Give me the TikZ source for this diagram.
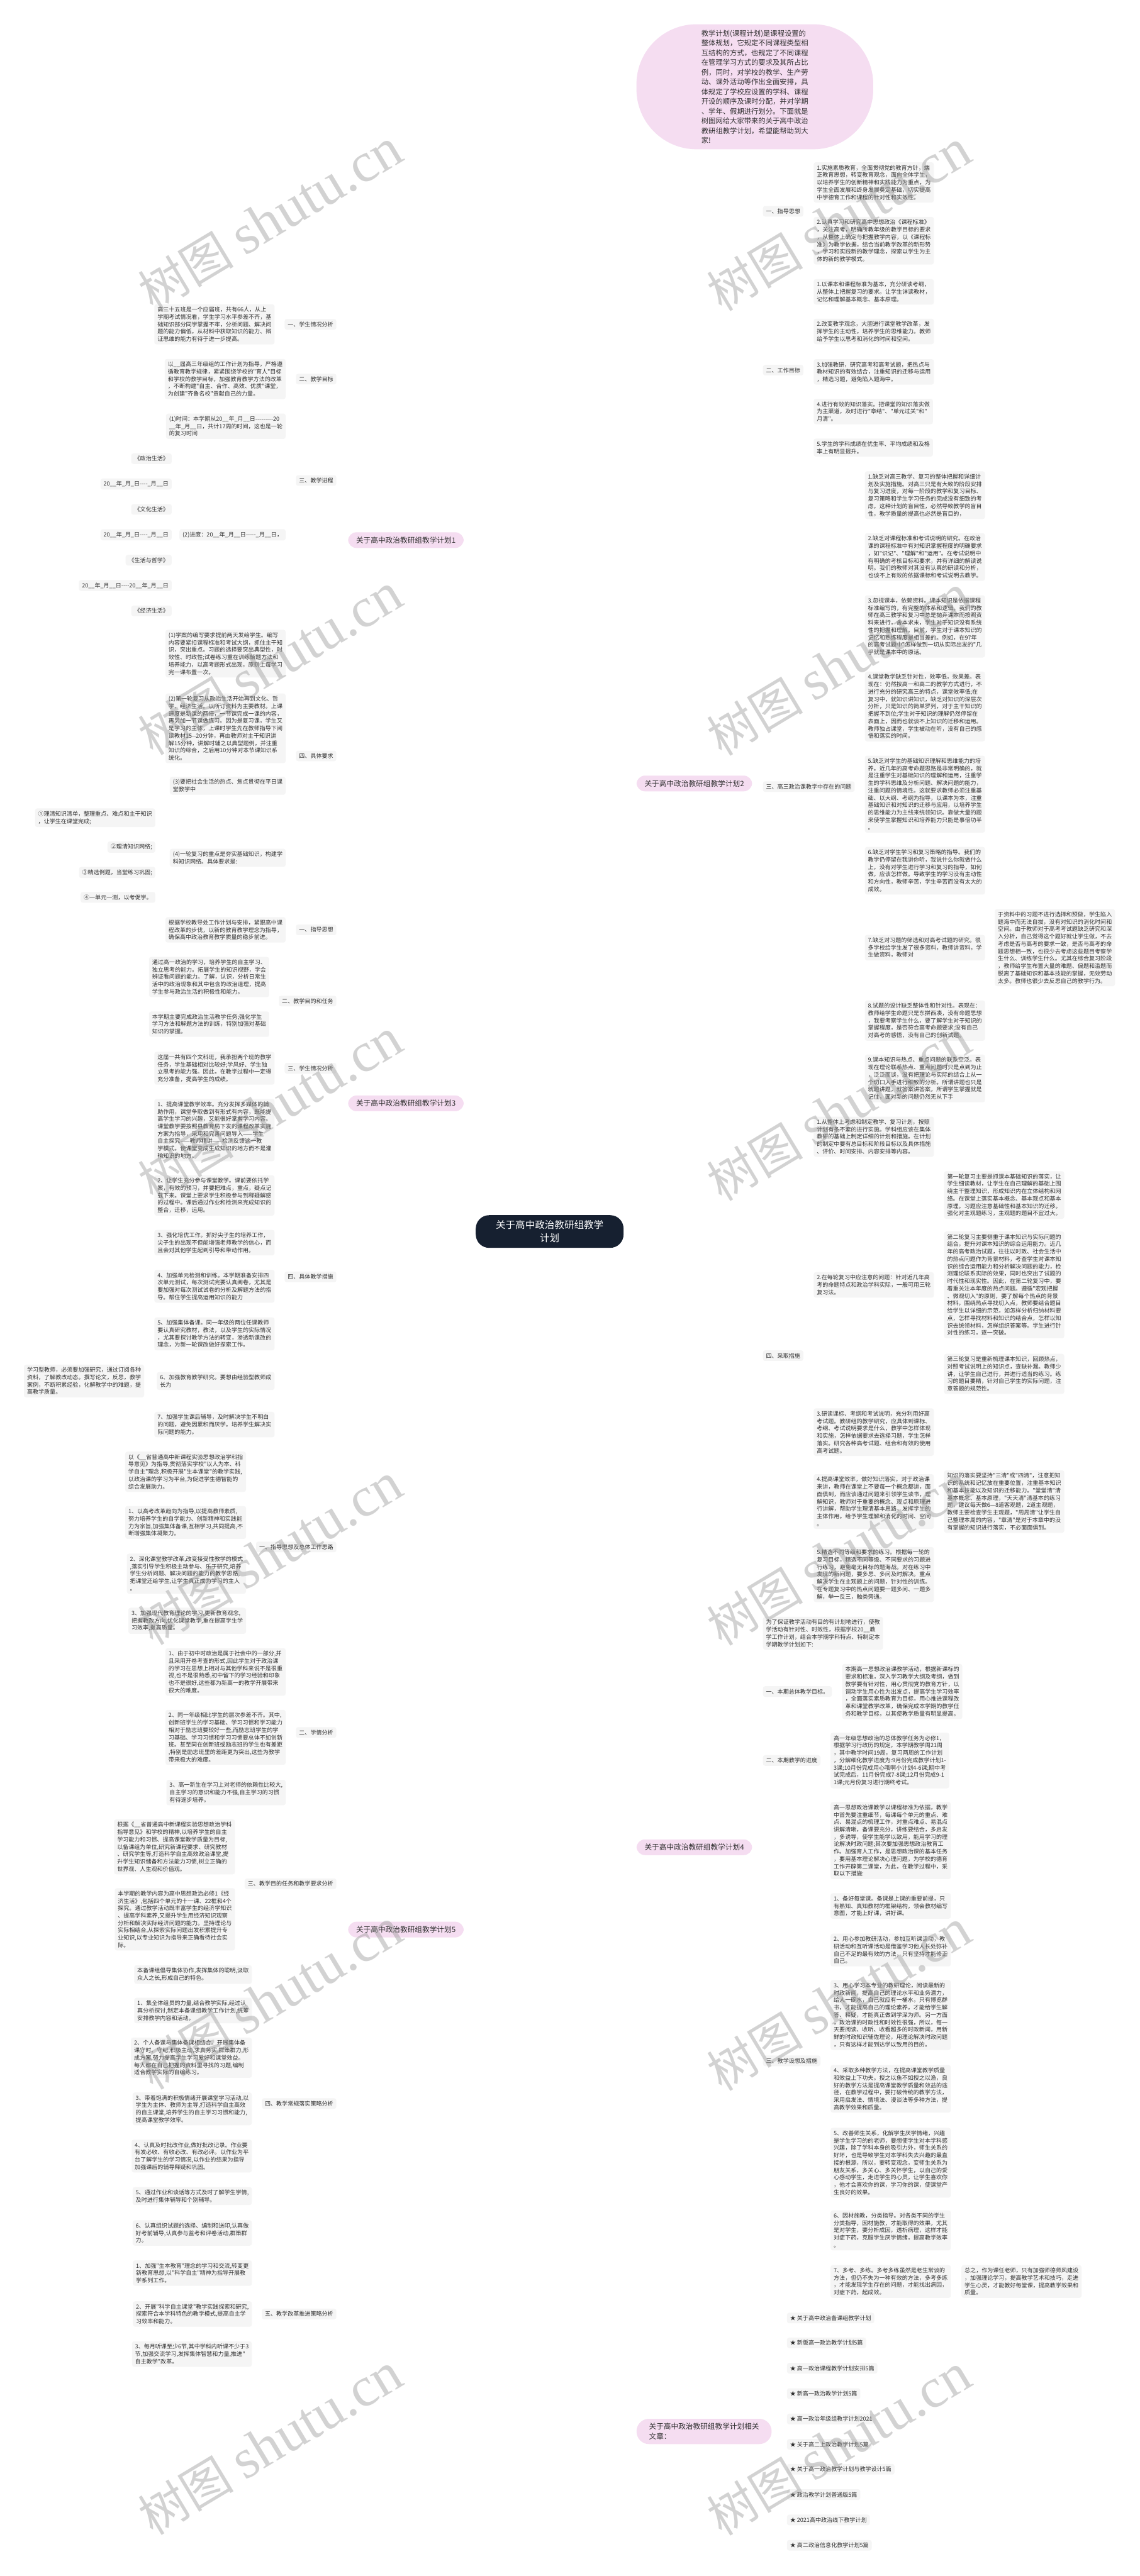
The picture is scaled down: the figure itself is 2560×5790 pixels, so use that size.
\documentclass[tikz,border=0pt]{standalone}
\usepackage{fontspec}
\newfontfamily\cjk{Noto Sans CJK SC}
\newfontfamily\wmfont{Liberation Serif}
\definecolor{linec}{RGB}{28,38,54}
\definecolor{boxc}{RGB}{245,245,245}
\definecolor{pinkc}{RGB}{245,221,241}
\definecolor{darkc}{RGB}{22,32,48}
\definecolor{txt}{RGB}{48,48,48}
\definecolor{wmc}{RGB}{150,150,150}
\newcommand\hA{-\kern0pt\relax}
\pgfdeclarelayer{bg}
\pgfsetlayers{bg,main}
\newcommand\eR[3][13]{\draw[conn] (#2.east) .. controls ([xshift=#1pt]#2.east) and ([xshift=-#1pt]#3.west) .. (#3.west);}
\newcommand\eL[3][13]{\draw[conn] (#2.west) .. controls ([xshift=-#1pt]#2.west) and ([xshift=#1pt]#3.east) .. (#3.east);}
\begin{document}
\begin{tikzpicture}[x=1pt,y=-1pt,
 box/.style={fill=boxc,rounded corners=5pt,inner xsep=7pt,inner ysep=6pt,align=left,text=txt,font=\cjk\fontsize{12.8}{16.6}\selectfont},
 plan/.style={fill=pinkc,rounded corners=19pt,inner xsep=18pt,inner ysep=10pt,text=txt,font=\cjk\fontsize{16.5}{21.6}\selectfont},
 conn/.style={draw=linec,line width=1.8pt},
 mainc/.style={draw=linec,line width=2.2pt},
 wm/.style={text=wmc,opacity=0.42,rotate=31,anchor=base west,inner sep=0pt}]
\fill[white] (0,0) rectangle (2560,5790);
\useasboundingbox (0,0) rectangle (2560,5790);

% ---------------- centre, intro and branch nodes
\node[fill=darkc,rounded corners=30pt,inner xsep=45pt,inner ysep=12pt,align=center,text=white,font=\cjk\fontsize{22}{29}\selectfont] (c) at (1235,2768) {关于高中政治教研组教学\\计划};
\node[fill=pinkc,rounded corners=135pt,minimum width=532pt,minimum height=281pt,align=left,text=txt,font=\cjk\fontsize{16}{21.9}\selectfont] (intro) at (1696,195) {教学计划(课程计划)是课程设置的\\整体规划，它规定不同课程类型相\\互结构的方式，也规定了不同课程\\在管理学习方式的要求及其所占比\\例，同时，对学校的教学、生产劳\\动、课外活动等作出全面安排，具\\体规定了学校应设置的学科、课程\\开设的顺序及课时分配，并对学期\\、学年、假期进行划分。下面就是\\树图网给大家带来的关于高中政治\\教研组教学计划，希望能帮助到大\\家!};
\node[plan,anchor=east] (p1) at (1042,1214) {关于高中政治教研组教学计划1};
\node[plan,anchor=east] (p3) at (1042,2480) {关于高中政治教研组教学计划3};
\node[plan,anchor=east] (p5) at (1042,4337) {关于高中政治教研组教学计划5};
\node[plan,anchor=west] (p2) at (1430,1761) {关于高中政治教研组教学计划2};
\node[plan,anchor=west] (p4) at (1430,4152) {关于高中政治教研组教学计划4};
\node[plan,anchor=west,align=left,inner xsep=28pt,rounded corners=28pt] (rel) at (1430,5465) {关于高中政治教研组教学计划相关\\文章：};

% ---------------- plan 2
\node[box,anchor=west] (a1) at (1714,475) {一、指导思想};
\node[box,anchor=west] (a1x1) at (1828,410) {1.实施素质教育，全面贯彻党的教育方针，端\\正教育思想，转变教育观念，面向全体学生，\\以培养学生的创新精神和实践能力为重点，为\\学生全面发展和终身发展奠定基础，切实提高\\中学德育工作和课程的针对性和实效性。};
\node[box,anchor=west] (a1x2) at (1828,541) {2.认真学习和研究高中思想政治《课程标准》\\，关注高考，明确所教年级的教学目标的要求\\，从整体上确定与把握教学内容，以《课程标\\准》为教学依据，结合当前教学改革的新形势\\，学习和实践新的教学理念，探索以学生为主\\体的新的教学模式。};
\node[box,anchor=west] (a2) at (1714,832) {二、工作目标};
\node[box,anchor=west] (a2x1) at (1828,656) {1.以课本和课程标准为基本，充分研读考纲，\\从整体上把握复习的要求。让学生详读教材，\\记忆和理解基本概念、基本原理。};
\node[box,anchor=west] (a2x2) at (1828,745) {2.改变教学观念，大胆进行课堂教学改革，发\\挥学生的主动性，培养学生的思维能力。教师\\给予学生以思考和消化的时间和空间。};
\node[box,anchor=west] (a2x3) at (1828,836) {3.加强教研，研究高考和高考试题，把热点与\\教材知识的有效结合，注重知识的迁移与运用\\，精选习题，避免陷入题海中。};
\node[box,anchor=west] (a2x4) at (1828,925) {4.进行有效的知识落实。把课堂的知识落实做\\为主渠道，及时进行"章结"、"单元过关"和"\\月清"。};
\node[box,anchor=west] (a2x5) at (1828,1006) {5.学生的学科成绩在优生率、平均成绩和及格\\率上有明显提升。};
\node[box,anchor=west] (a3) at (1714,1768) {三、高三政治课教学中存在的问题};
\node[box,anchor=west] (a3x1) at (1943,1113) {1.缺乏对高三教学、复习的整体把握和详细计\\划及实施措施。对高三只是有大致的阶段安排\\与复习进度，对每一阶段的教学和复习目标、\\复习策略和学生学习任务的完成没有细致的考\\虑，这种计划的盲目性，必然导致教学的盲目\\性，教学质量的提高也必然是盲目的，};
\node[box,anchor=west] (a3x2) at (1943,1252) {2.缺乏对课程标准和考试说明的研究。在政治\\课的课程标准中有对知识掌握程度的明确要求\\，如"识记"、"理解"和"运用"。在考试说明中\\有明确的考核目标和要求，并有详细的解读说\\明。我们的教师对其没有认真的研读和分析，\\也谈不上有效的依据课标和考试说明去教学。};
\node[box,anchor=west] (a3x3) at (1943,1408) {3.忽视课本，依赖资料。课本知识是依据课程\\标准编写的，有完整的体系和逻辑。我们的教\\师在高三教学和复习中总是抛弃课本而按照资\\料来进行，舍本求末，学生对于知识没有系统\\性的把握和理解。目前，学生对于课本知识的\\记忆和熟练程度是相当差的。例如，在97年\\的高考试题中"怎样做到一切从实际出发的"几\\乎就是课本中的原话。};
\node[box,anchor=west] (a3x4) at (1943,1588) {4.课堂教学缺乏针对性，效率低，效果差。表\\现在：仍然按高一和高二的教学方式进行，不\\进行充分的研究高三的特点，课堂效率低;在\\复习中，就知识讲知识，缺乏对知识的深层次\\分析，只是知识的简单罗列，对于主干知识的\\把握不到位;学生对于知识的理解仍然停留在\\表面上，因而也就谈不上知识的迁移和运用。\\教师独占课堂，学生被动在听，没有自己的感\\悟和落实的时间。};
\node[box,anchor=west] (a3x5) at (1943,1785) {5.缺乏对学生的基础知识理解和思维能力的培\\养。近几年的高考命题思路是非常明确的，就\\是注重学生对基础知识的理解和运用，注重学\\生的学科思维及分析问题、解决问题的能力，\\注重问题的情境性。这就要求教师必须注重基\\础、以大纲、考纲为指导，以课本为本，注重\\基础知识和对知识的迁移与应用，以培养学生\\的思维能力为主线来统领知识。靠做大量的题\\来使学生掌握知识和培养能力只能是事倍功半\\。};
\node[box,anchor=west] (a3x6) at (1943,1957) {6.缺乏对学生学习和复习策略的指导。我们的\\教学仍停留在我讲你听，我说什么你就做什么\\上，没有对学生进行学习和复习的指导，如何\\做，应该怎样做。导致学生的学习没有主动性\\和方向性，教师辛苦，学生辛苦而没有太大的\\成效。};
\node[box,anchor=west] (a3x7) at (1943,2130) {7.缺乏对习题的筛选和对高考试题的研究。很\\多学校给学生发了很多资料，教师讲资料，学\\生做资料，教师对};
\node[box,anchor=west] (a3x7c) at (2235,2130) {于资料中的习题不进行选择和预做，学生陷入\\题海中而无法自拔，没有对知识的消化时间和\\空间。由于教师对于高考考试题缺乏研究和深\\入分析，自己觉得这个题好就让学生做，不去\\考虑是否与高考的要求一致，是否与高考的命\\题思想相一致，也很少去考虑这些题目考察学\\生什么、训练学生什么。尤其在综合复习阶段\\，教师给学生布置大量的难题、偏题和滥题而\\脱离了基础知识和基本技能的掌握，无效劳动\\太多。教师也很少去反思自己的教学行为。};
\node[box,anchor=west] (a3x8) at (1943,2294) {8.试题的设计缺乏整体性和针对性。表现在：\\教师给学生命题只是东拼西凑，没有命题思想\\，我要考察学生什么，要了解学生对于知识的\\掌握程度，是否符合高考命题要求;没有自己\\对高考的感悟，没有自己的创新试题。};
\node[box,anchor=west] (a3x9) at (1943,2424) {9.课本知识与热点、重点问题的联系空泛。表\\现在理论联系热点、重点问题时只是点到为止\\，泛泛而谈，没有把理论与实际的结合上从一\\个切口入手进行细致的分析。所谓讲题也只是\\就题讲题，就答案讲答案，所谓学生掌握就是\\记住，面对新的问题仍然无从下手};
\node[box,anchor=west] (a4) at (1714,3047) {四、采取措施};
\node[box,anchor=west] (a4x1) at (1828,2555) {1.从整体上考虑和制定教学、复习计划，按照\\计划有条不紊的进行实施。学科组应该在集体\\教研的基础上制定详细的计划和措施。在计划\\的制定中要有总目标和阶段目标以及具体措施\\、评价、时间安排、内容安排等内容。};
\node[box,anchor=west] (a4x2) at (1828,2888) {2.在每轮复习中应注意的问题：针对近几年高\\考的命题特点和政治学科实际，一般可用三轮\\复习法。};
\node[box,anchor=west] (a4x2a) at (2121,2686) {第一轮复习主要是抓课本基础知识的落实，让\\学生细读教材，让学生在自己理解的基础上围\\绕主干整理知识，形成知识内在立体结构和网\\络。在课堂上落实基本概念、基本观点和基本\\原理。习题应注意基础性和基本知识的迁移。\\强化对主观题练习，主观题的题目不宜过大。};
\node[box,anchor=west] (a4x2b) at (2121,2888) {第二轮复习主要侧重于课本知识与实际问题的\\结合，提升对课本知识的综合运用能力。近几\\年的高考政治试题，往往以时政、社会生活中\\的热点问题作为背景材料，考查学生对课本知\\识的综合运用能力和分析解决问题的能力，检\\测理论联系实际的效果，同时也突出了试题的\\时代性和现实性。因此，在第二轮复习中，要\\着重关注本年度的热点问题。遵循"宏观把握\\、微观切入"的原则，要了解每个热点的背景\\材料，围绕热点寻找切入点，教师要结合题目\\给学生以详细的示范，如怎样分析归纳材料要\\点，怎样寻找材料和知识的结合点，怎样以知\\识去统领材料，怎样组织答案等。学生进行针\\对性的练习，逐一突破。};
\node[box,anchor=west] (a4x2c) at (2121,3088) {第三轮复习是重新梳理课本知识，回顾热点，\\对照考试说明上的知识点，查缺补漏。教师少\\讲，让学生自己进行，并进行适当的练习。练\\习的题目要精，针对自己学生的实际问题，注\\意答题的规范性。};
\node[box,anchor=west] (a4x3) at (1828,3219) {3.研读课标、考纲和考试说明，充分利用好高\\考试题。教研组的教学研究，应具体到课标、\\考纲、考试说明要求是什么，教学中怎样体现\\和实施，怎样依据要求去选择习题，学生怎样\\落实。研究各种高考试题、组合和有效的使用\\高考试题。};
\node[box,anchor=west] (a4x4) at (1828,3375) {4.提高课堂效率，做好知识落实。对于政治课\\来讲，教师在课堂上不要每一个概念都讲，面\\面俱到，而应该通过问题来引领学生读书，理\\解知识，教师对于重要的概念、观点和原理进\\行讲解，帮助学生理清基本思路，发挥学生的\\主体作用。给予学生理解和消化的时间、空间\\。};
\node[box,anchor=west] (a4x4c) at (2121,3375) {知识的落实要坚持"三清"或"四清"，注意把知\\识的系统和记忆放在重要位置，注重基本知识\\和基本技能以及知识的迁移能力。"堂堂清"清\\基本概念、基本原理，"天天清"清基本的练习\\题，建议每天做6—8道客观题，2道主观题，\\教师主要检查学生主观题，"周周清"让学生自\\己整理本周的内容，"章清"是对于本章中的没\\有掌握的知识进行落实，不必面面俱到。};
\node[box,anchor=west] (a4x5) at (1828,3539) {5.精选不同等级和要求的练习。根据每一轮的\\复习目标，精选不同等级、不同要求的习题进\\行练习，避免毫无目标的题海战。对在练习中\\发现的新问题，要多思、多问及时解决。重点\\解决学生在主观题上的问题，针对性的训练。\\在专题复习中的热点问题要一题多问、一题多\\解，举一反三，触类旁通。};

% ---------------- plan 4
\node[box,anchor=west] (b0) at (1714,3671) {为了保证教学活动有目的有计划地进行，使教\\学活动有针对性、时效性，根据学校20\_\_教\\学工作计划，结合本学期学科特点、特制定本\\学期教学计划如下:};
\node[box,anchor=west] (b1) at (1714,3802) {一、本期总体教学目标。};
\node[box,anchor=west] (b1c) at (1892,3802) {本期高一思想政治课教学活动，根据新课标的\\要求和标准，深入学习教学大纲及考纲，做到\\教学要有针对性，用心贯彻党的教育方针，以\\调动学生用心性为出发点，提高学生学习效率\\，全面落实素质教育为目标，用心推进课程改\\革和课堂教学改革，确保完成本学期的教学任\\务和教学目标，以其使教学质量有明显提高。};
\node[box,anchor=west] (b2) at (1714,3957) {二、本期教学的进度};
\node[box,anchor=west] (b2c) at (1866,3957) {高一年级思想政治的总体教学任务为必修1，\\根据学习行政历的规定，本学期教学周21周\\，其中教学时间19周，复习两周的工作计划\\，分解细化教学进度为:9月份完成教学计划1-\\3课;10月份完成用心哦啊小计划4-6课;期中考\\试完成后，11月份完成7-8课;12月份完成9-1\\1课;元月份复习进行期终考试。};
\node[box,anchor=west] (b3) at (1714,4632) {三、教学设想及措施};
\node[box,anchor=west] (b3c0) at (1866,4137) {高一思想政治课教学以课程标准为依据，教学\\中首先要注重细节，每课每个单元的重点、难\\点、易混点的梳理工作，对重点难点、易混点\\讲解清晰，备课要充分，讲练要结合，多启发\\，多诱导，使学生能学以致用，能用学习的理\\论解决时政问题;其次要加强思想政治教育工\\作。加强育人工作，是思想政治课的基本任务\\，要用基本理论解决心理问题，为学校的德育\\工作开辟第二课堂，为此，在教学过程中，采\\取以下措施:};
\node[box,anchor=west] (b3c1) at (1866,4284) {1、备好每堂课。备课是上课的重要前提，只\\有熟知、真知教材的框架结构，领会教材编写\\意图，才能上好课，讲好课。};
\node[box,anchor=west] (b3c2) at (1866,4383) {2、用心参加教研活动，参加互听课活动，教\\研活动和互听课活动是借鉴学习他人长处弥补\\自己不足的最有效的方法，只有坚持才能修正\\自己。};
\node[box,anchor=west] (b3c3) at (1866,4529) {3、用心学习本专业的教研理论，阅读最新的\\时政新闻，提高自己的理论水平和业务潜力，\\给人一碗水，自己就应有一桶水，只有博览群\\书，才能提高自己的理论素养，才能给学生解\\答、释疑，才能真正做到学深为师。另一方面\\，政治课的时政性和时效性很强，所以，每一\\天要阅读、收听、收看超多的时政新闻，用新\\鲜的时政知识辅佐理论，用理论解决时政问题\\，只有这样才能到达学以致用的目的。};
\node[box,anchor=west] (b3c4) at (1866,4695) {4、采取多种教学方法，在提高课堂教学质量\\和效益上下功夫。授之以鱼不如授之以渔，良\\好的教学方法是提高课堂教学质量和效益的途\\径，在教学过程中，要打破传统的教学方法，\\采用启发法、情境法、漫谈法等多种方法，提\\高教学效果和质量。};
\node[box,anchor=west] (b3c5) at (1866,4861) {5、改善师生关系，化解学生厌学情绪，兴趣\\是学生学习的的老师，要想使学生对本学科感\\兴趣，除了学科本身的吸引力外，师生关系的\\好坏，也是导致学生对本学科失去兴趣的最直\\接的根源，所以，要转变观念，变师生关系为\\朋友关系，多关心、多关怀学生，以自己的爱\\心感动学生，走进学生的心灵，让学生喜欢你\\，他才会喜欢你的课，学习你的课，使课堂产\\生良好的效果。};
\node[box,anchor=west] (b3c6) at (1866,5013) {6、因材施教，分类指导。对各类不同的学生\\分类指导，因材施教，才能取得的效果，尤其\\是对学生，要分析成因，透析病理，这样才能\\对症下药，克服学生厌学情绪，提高教学效率\\。};
\node[box,anchor=west] (b3c7) at (1866,5128) {7、多考、多练。多考多练虽然是老生常谈的\\方法，但仍不失为一种有效的方法，多考多练\\，才能发现学生存在的问题，才能找出病因，\\对症下药，起成效。};
\node[box,anchor=west] (b3c7x) at (2160,5128) {总之，作为课任老师，只有加强师德师风建设\\，加强理论学习，提高教学艺术和技巧，走进\\学生心灵，才能教好每堂课，提高教学效果和\\质量。};

% ---------------- related articles
\node[box,anchor=west] (r1) at (1768,5210) {★ 关于高中政治备课组教学计划};
\node[box,anchor=west] (r2) at (1768,5266) {★ 新版高一政治教学计划5篇};
\node[box,anchor=west] (r3) at (1768,5323) {★ 高一政治课程教学计划安排5篇};
\node[box,anchor=west] (r4) at (1768,5380) {★ 新高一政治教学计划5篇};
\node[box,anchor=west] (r5) at (1768,5437) {★ 高一政治年级组教学计划2021};
\node[box,anchor=west] (r6) at (1768,5494) {★ 关于高二上政治教学计划5篇};
\node[box,anchor=west] (r7) at (1768,5550) {★ 关于高一政治教学计划与教学设计5篇};
\node[box,anchor=west] (r8) at (1768,5607) {★ 政治教学计划普通版5篇};
\node[box,anchor=west] (r9) at (1768,5664) {★ 2021高中政治线下教学计划};
\node[box,anchor=west] (r10) at (1768,5721) {★ 高二政治信息化教学计划5篇};

% ---------------- plan 1
\node[box,anchor=east] (d1) at (756,729) {一、学生情况分析};
\node[box,anchor=east] (d1c) at (617,729) {高三十五班是一个应届班，共有66人，从上\\学期考试情况看，学生学习水平参差不齐，基\\础知识部分同学掌握不牢，分析问题、解决问\\题的能力偏低，从材料中获取知识的能力、辩\\证思维的能力有待于进一步提高。};
\node[box,anchor=east] (d2) at (756,852) {二、教学目标};
\node[box,anchor=east] (d2c) at (642,852) {以\_\_届高三年级组的工作计划为指导，严格遵\\循教育教学规律，紧紧围绕学校的"育人"目标\\和学校的教学目标，加强教育教学方法的改革\\，不断构建"自主、合作、高效、优质"课堂，\\为创建"齐鲁名校"贡献自己的力量。};
\node[box,anchor=east] (d3) at (756,1080) {三、教学进程};
\node[box,anchor=east] (d3c1) at (642,958) {(1)时间：本学期从20\_\_年\_月\_\_日\hA\hA\hA\hA\hA\hA\hA\hA\hA20\\\_\_年\_月\_\_日，共计17周的时间，这也是一轮\\的复习时间};
\node[box,anchor=east] (d3c2) at (642,1202) {(2)进度：20\_\_年\_月\_\_日\hA\hA\hA\hA\hA\_月\_\_日，};
\node[box,anchor=east] (d3g1) at (386,1031) {《政治生活》};
\node[box,anchor=east] (d3g2) at (386,1088) {20\_\_年\_月\_日\hA\hA\hA\hA\_月\_\_日};
\node[box,anchor=east] (d3g3) at (386,1145) {《文化生活》};
\node[box,anchor=east] (d3g4) at (386,1202) {20\_\_年\_月\_日\hA\hA\hA\hA\_月\_\_日};
\node[box,anchor=east] (d3g5) at (386,1259) {《生活与哲学》};
\node[box,anchor=east] (d3g6) at (386,1316) {20\_\_年\_月\_\_日\hA\hA\hA\hA20\_\_年\_月\_\_日};
\node[box,anchor=east] (d3g7) at (386,1373) {《经济生活》};
\node[box,anchor=east] (d4) at (756,1699) {四、具体要求};
\node[box,anchor=east] (d4c1) at (642,1469) {(1)学案的编写要求提前两天发给学生。编写\\内容要紧扣课程标准和考试大纲，抓住主干知\\识，突出重点。习题的选择要突出典型性，时\\效性、时政性;试卷练习重在训练解题方法和\\培养能力，以高考题形式出现，原则上每学习\\完一课布置一次。};
\node[box,anchor=east] (d4c2) at (642,1637) {(2)第一轮复习从政治生活开始再到文化、哲\\学、经济生活。以所订资料为主要教材。上课\\速度是新课的两倍，一节课完成一课的内容，\\再另加一节课做练习。因为是复习课，学生又\\是学习的主体，上课时学生先在教师指导下阅\\读教材15\hA\hA20分钟，再由教师对主干知识讲\\解15分钟，讲解时辅之以典型题例，并注重\\知识的综合，之后用10分钟对本节课知识系\\统化。};
\node[box,anchor=east] (d4c3) at (642,1766) {(3)要把社会生活的热点、焦点贯彻在平日课\\堂教学中};
\node[box,anchor=east] (d4c4) at (642,1928) {(4)一轮复习的重点是夯实基础知识，构建学\\科知识网络。具体要求是:};
\node[box,anchor=east] (d4g1) at (349,1838) {①理清知识清单，整理重点、难点和主干知识\\，让学生在课堂完成;};
\node[box,anchor=east] (d4g2) at (349,1904) {②理清知识网络;};
\node[box,anchor=east] (d4g3) at (349,1961) {③精选例题，当堂练习巩固;};
\node[box,anchor=east] (d4g4) at (349,2017) {④一单元一测，以考促学。};

% ---------------- plan 3
\node[box,anchor=east] (e1) at (756,2090) {一、指导思想};
\node[box,anchor=east] (e1c) at (642,2090) {根据学校教导处工作计划与安排，紧跟高中课\\程改革的步伐，以新的教育教学理念为指导，\\确保高中政治教育教学质量的稳步前进。};
\node[box,anchor=east] (e2) at (756,2250) {二、教学目的和任务};
\node[box,anchor=east] (e2c1) at (605,2196) {通过高一政治的学习，培养学生的自主学习、\\独立思考的能力。拓展学生的知识视野，学会\\辨证看问题的能力。了解，认识，分析日常生\\活中的政治现象和其中包含的政治道理，提高\\学生参与政治生活的积极性和能力。};
\node[box,anchor=east] (e2c2) at (605,2302) {本学期主要完成政治生活教学任务;强化学生\\学习方法和解题方法的训练，特别加强对基础\\知识的掌握。};
\node[box,anchor=east] (e3) at (756,2401) {三、学生情况分析};
\node[box,anchor=east] (e3c) at (617,2401) {这届一共有四个文科班，我承担两个班的教学\\任务，学生基础相对比较好;学风好、学生独\\立思考的能力强。因此，在教学过程中一定得\\充分准备，提高学生的成绩。};
\node[box,anchor=east] (e4) at (756,2870) {四、具体教学措施};
\node[box,anchor=east] (e4c1) at (617,2540) {1、提高课堂教学效率。充分发挥多媒体的辅\\助作用，课堂争取做到有形式有内容，既能提\\高学生学习的兴趣，又能很好掌握学习内容。\\课堂教学要按照县教育局下发的课程改革实施\\方案为指导，采用和完善问题导入——学生\\自主探究——教师精讲——检测反馈这一教\\学模式。使课堂变成生成知识的地方而不是灌\\输知识的地方。};
\node[box,anchor=east] (e4c2) at (617,2687) {2、让学生充分参与课堂教学。课前要依托学\\案，有效的预习，并要把难点，重点，疑点记\\载下来。课堂上要求学生积极参与到释疑解惑\\的过程中。课后通过作业和检测来完成知识的\\整合，迁移，运用。};
\node[box,anchor=east] (e4c3) at (617,2793) {3、强化培优工作。抓好尖子生的培养工作，\\尖子生的出现不但能增强老师教学的信心，而\\且会对其他学生起到引导和带动作用。};
\node[box,anchor=east] (e4c4) at (617,2891) {4、加强单元检测和训练。本学期准备安排四\\次单元测试，每次测试完要认真阅卷，尤其是\\要加强对每次测试试卷的分析及解题方法的指\\导。帮住学生提高运用知识的能力};
\node[box,anchor=east] (e4c5) at (617,2998) {5、加强集体备课。同一年级的两位任课教师\\要认真研究教材，教法，以及学生的实际情况\\，尤其要探讨教学方法的转变，渗透新课改的\\理念，为新一轮课改做好探索工作。};
\node[box,anchor=east] (e4c6) at (617,3104) {6、加强教育教学研究。要想由经验型教师成\\长为};
\node[box,anchor=east] (e4c6x) at (324,3104) {学习型教师，必须要加强研究，通过订阅各种\\资料，了解教改动态。撰写论文，反思，教学\\案例，不断积累经验，化解教学中的难题，提\\高教学质量。};
\node[box,anchor=east] (e4c7) at (617,3202) {7、加强学生课后辅导，及时解决学生不明白\\的问题，避免因累积而厌学。培养学生解决实\\际问题的能力。};

% ---------------- plan 5
\node[box,anchor=east] (f1) at (756,3477) {一、指导思想及总体工作思路};
\node[box,anchor=east] (f1c0) at (553,3308) {以《\_\_省普通高中新课程实验思想政治学科指\\导意见》为指导,贯彻落实学校"以人为本、科\\学自主"理念,积极开展"生本课堂"的教学实践,\\以政治课的学习为平台,为促进学生德智能的\\综合发展助力。};
\node[box,anchor=east] (f1c1) at (553,3422) {1、以高考改革趋向为指导,以提高教师素质,\\努力培养学生的自学能力、创新精神和实践能\\力为宗旨,加强集体备课,互相学习,共同提高,不\\断增强集体凝聚力。};
\node[box,anchor=east] (f1c2) at (553,3537) {2、深化课堂教学改革,改变接受性教学的模式\\,落实引导学生积极主动参与、乐于研究,培养\\学生分析问题、解决问题的能力的教学思路,\\把课堂还给学生,让学生真正成为学习的主人\\。};
\node[box,anchor=east] (f1c3) at (553,3643) {3、加强现代教育理论的学习,更新教育观念,\\把握教改方向,优化课堂教学,重在提高学生学\\习效率,提高质量。};
\node[box,anchor=east] (f2) at (756,3894) {二、学情分析};
\node[box,anchor=east] (f2c1) at (642,3758) {1、由于初中时政治是属于社会中的一部分,并\\且采用开卷考查的形式,因此学生对于政治课\\的学习在思想上相对与其他学科来说不是很重\\视,也不是很熟悉,初中留下的学习经验和印象\\也不是很好,这些都为新高一的教学开展带来\\很大的难度。};
\node[box,anchor=east] (f2c2) at (642,3905) {2、同一年级相比学生的层次参差不齐。其中,\\创新班学生的学习基础、学习习惯和学习能力\\相对于励志班要较好一些,而励志班学生的学\\习基础、学习习惯和学习习惯要总体不如创新\\班。甚至同在创新班或励志班的学生也有差距\\,特别是励志班里的差距更为突出,这些为教学\\带来极大的难度。};
\node[box,anchor=east] (f2c3) at (642,4029) {3、高一新生在学习上对老师的依赖性比较大,\\自主学习的意识和能力不强,自主学习的习惯\\有待逐步培养。};
\node[box,anchor=east] (f3) at (756,4234) {三、教学目的任务和教学要求分析};
\node[box,anchor=east] (f3c1) at (528,4151) {根据《\_\_省普通高中新课程实验思想政治学科\\指导意见》和学校的精神,以培养学生的自主\\学习能力和习惯、提高课堂教学质量为目标,\\以备课组为单位,研究新课程要求、研究教材\\、研究学生等,打造科学自主高效政治课堂,提\\升学生知识储备和方法能力习惯,树立正确的\\世界观、人生观和价值观。};
\node[box,anchor=east] (f3c2) at (528,4314) {本学期的教学内容为高中思想政治必修1《经\\济生活》,包括四个单元的十一课、22框和4个\\探究。通过教学活动既丰富学生的经济学知识\\、提高学科素养,又提升学生用经济知识观察\\分析和解决实际经济问题的能力。坚持理论与\\实际相结合,从探索实际问题出发积累提升专\\业知识,以专业知识为指导来正确看待社会实\\际。};
\node[box,anchor=east] (f4) at (756,4728) {四、教学常规落实策略分析};
\node[box,anchor=east] (f4c0) at (566,4438) {本备课组倡导集体协作,发挥集体的聪明,汲取\\众人之长,形成自己的特色。};
\node[box,anchor=east] (f4c1) at (566,4519) {1、集全体组员的力量,结合教学实际,经过认\\真分析探讨,制定本备课组教学工作计划,统筹\\安排教学内容和活动。};
\node[box,anchor=east] (f4c2) at (566,4625) {2、个人备课与集体备课相结合。开展集体备\\课守时、守纪,积极主动,求真务实,群策群力,形\\成方案,努力提高学生学习爱好和课堂效益。\\每人都在自己把握的资料里寻找的习题,编制\\适合教学实际的自编练习。};
\node[box,anchor=east] (f4c3) at (566,4740) {3、带着饱满的积极情绪开展课堂学习活动,以\\学生为主体、教师为主导,打造科学自主高效\\的自主课堂,培养学生的自主学习习惯和能力,\\提高课堂教学效率。};
\node[box,anchor=east] (f4c4) at (566,4846) {4、认真及时批改作业,做好批改记录。作业要\\有发必收、有收必改、有改必评。以作业为平\\台了解学生的学习情况,以作业的结果为指导\\加强课后的辅导释疑和巩固。};
\node[box,anchor=east] (f4c5) at (566,4936) {5、通过作业和谈话等方式及时了解学生学情,\\及时进行集体辅导和个别辅导。};
\node[box,anchor=east] (f4c6) at (566,5019) {6、认真组织试题的选择、编制和送印,认真做\\好考前辅导,认真参与监考和评卷活动,群策群\\力。};
\node[box,anchor=east] (f5) at (756,5201) {五、教学改革推进策略分析};
\node[box,anchor=east] (f5c1) at (566,5109) {1、加强"生本教育"理念的学习和交流,转变更\\新教育思想,以"科学自主"精神为指导开展教\\学系列工作。};
\node[box,anchor=east] (f5c2) at (566,5201) {2、开展"科学自主课堂"教学实践探索和研究,\\探索符合本学科特色的教学模式,提高自主学\\习效率和能力。};
\node[box,anchor=east] (f5c3) at (566,5291) {3、每月听课至少6节,其中学科内听课不少于3\\节,加强交流学习,发挥集体智慧和力量,推进"\\自主教学"改革。};

% ---------------- connectors
\begin{pgfonlayer}{bg}
\draw[mainc] (c.center) .. controls (1235,1991) and (1142,1214) .. (p1.east);
\draw[mainc] (c.center) .. controls (1235,2624) and (1142,2480) .. (p3.east);
\draw[mainc] (c.center) .. controls (1235,3552) and (1142,4337) .. (p5.east);
\draw[mainc] (c.center) .. controls (1235,1481) and (1330,195) .. (intro.west);
\draw[mainc] (c.center) .. controls (1235,2264) and (1330,1761) .. (p2.west);
\draw[mainc] (c.center) .. controls (1235,3460) and (1330,4152) .. (p4.west);
\draw[mainc] (c.center) .. controls (1235,4116) and (1330,5465) .. (rel.west);
\foreach \n in {a1,a2,a3,a4} {\eR{p2}{\n}}
\eR{a1}{a1x1} \eR{a1}{a1x2}
\foreach \i in {1,...,5} {\eR{a2}{a2x\i}}
\foreach \i in {1,...,9} {\eR{a3}{a3x\i}}
\eR{a3x7}{a3x7c}
\foreach \i in {1,...,5} {\eR{a4}{a4x\i}}
\eR{a4x2}{a4x2a} \eR{a4x2}{a4x2b} \eR{a4x2}{a4x2c} \eR{a4x4}{a4x4c}
\foreach \n in {b0,b1,b2,b3} {\eR{p4}{\n}}
\eR{b1}{b1c} \eR{b2}{b2c}
\foreach \i in {0,...,7} {\eR{b3}{b3c\i}}
\eR{b3c7}{b3c7x}
\foreach \i in {1,...,10} {\eR[11]{rel}{r\i}}
\foreach \n in {d1,d2,d3,d4} {\eL{p1}{\n}}
\eL{d1}{d1c} \eL{d2}{d2c} \eL{d3}{d3c1} \eL{d3}{d3c2}
\foreach \i in {1,...,7} {\eL{d3c2}{d3g\i}}
\foreach \i in {1,...,4} {\eL{d4}{d4c\i}}
\foreach \i in {1,...,4} {\eL{d4c4}{d4g\i}}
\foreach \n in {e1,e2,e3,e4} {\eL{p3}{\n}}
\eL{e1}{e1c} \eL{e2}{e2c1} \eL{e2}{e2c2} \eL{e3}{e3c}
\foreach \i in {1,...,7} {\eL{e4}{e4c\i}}
\eL{e4c6}{e4c6x}
\foreach \n in {f1,f2,f3,f4,f5} {\eL{p5}{\n}}
\foreach \i in {0,...,3} {\eL{f1}{f1c\i}}
\foreach \i in {1,...,3} {\eL{f2}{f2c\i}}
\foreach \i in {1,2} {\eL{f3}{f3c\i}}
\foreach \i in {0,...,6} {\eL{f4}{f4c\i}}
\foreach \i in {1,...,3} {\eL{f5}{f5c\i}}
\end{pgfonlayer}

% ---------------- watermarks
\foreach \k in {0,...,5} {
 \node[wm] (wl\k) at (344,{700+1000*\k}) {\cjk\fontsize{108}{108}\selectfont 树图 \wmfont\fontsize{126}{126}\selectfont shutu.cn};
 \node[wm] (wr\k) at (1622,{702+1000*\k}) {\cjk\fontsize{108}{108}\selectfont 树图 \wmfont\fontsize{126}{126}\selectfont shutu.cn};
}
\end{tikzpicture}
\end{document}
